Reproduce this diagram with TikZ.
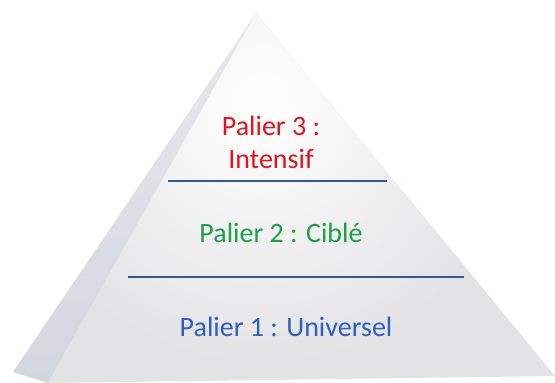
\documentclass[tikz,border=0pt]{standalone}
\usepackage{fontspec}
\setmainfont{Carlito}
\usetikzlibrary{calc}
\definecolor{frontgray}{HTML}{E3E3E5}
\definecolor{sidetop}{HTML}{E8E9EE}
\definecolor{sidebot}{HTML}{D4D6DE}
\definecolor{tierred}{HTML}{E0141E}
\definecolor{tiergreen}{HTML}{1F9E4C}
\definecolor{tierblue}{HTML}{2F5FB9}
\definecolor{tierline}{HTML}{36578F}
\tikzset{
  tierlabel/.style={font=\fontsize{28}{33}\selectfont, anchor=base, align=center},
  tierrule/.style={line width=1.4pt, color=tierline}
}

\begin{document}
\begin{tikzpicture}[x=1pt, y=-1pt]
		%%%%% START %%%%%
		\useasboundingbox (0, 0) rectangle (555, 383);
		
		\coordinate (apex) at (256, 13);
		\coordinate (sideleft) at (13, 372);
		\coordinate (frontleft) at (48, 383);
		\coordinate (frontright) at (555, 376);
		
		% side face
		\shade[top color=sidetop, bottom color=sidebot] (apex) -- (sideleft) -- (frontleft) -- cycle;
		
		% front face
		\begin{scope}
			\clip (apex) -- (frontleft) -- (frontright) -- cycle;
			\fill[frontgray] (0, 0) rectangle (555, 383);
			\shade[inner color=white, outer color=frontgray] (262, 105) circle (260);
		\end{scope}
		
		\draw[tierrule] (168, 181) -- (387, 181);
		\draw[tierrule] (128, 277) -- (464, 277);
		
		\node[tierlabel, text=tierred] (tier3) at (271, 168) {Palier 3 :\\Intensif};
		\node[tierlabel, text=tiergreen] (tier2) at (281, 242) {Palier 2 : Ciblé};
		\node[tierlabel, text=tierblue] (tier1) at (286, 336) {Palier 1 : Universel};
		
		%%%%% END %%%%%
	\end{tikzpicture}
\end{document}
